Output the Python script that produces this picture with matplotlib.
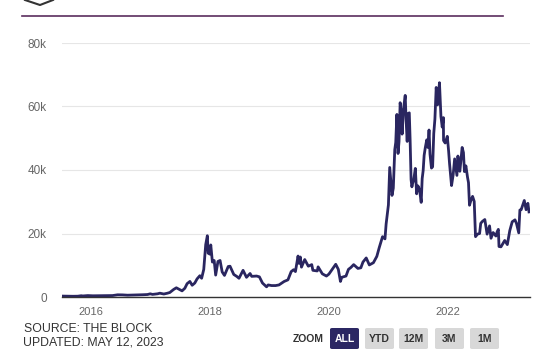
import numpy as np
import pandas as pd
import matplotlib
matplotlib.use("Agg")
import matplotlib.pyplot as plt
from matplotlib.patches import FancyBboxPatch

# Bitcoin price (USD)
dates = [
    "2015-07-15", "2015-08-15", "2015-09-15", "2015-10-15", "2015-11-05", "2015-11-15",
    "2015-12-15", "2016-01-15", "2016-02-15", "2016-03-15", "2016-04-15", "2016-05-15",
    "2016-06-15", "2016-07-15", "2016-08-15", "2016-09-15", "2016-10-15", "2016-11-15",
    "2016-12-15", "2017-01-01", "2017-01-15", "2017-02-15", "2017-03-01", "2017-03-25",
    "2017-04-15", "2017-05-01", "2017-05-25", "2017-06-10", "2017-06-25", "2017-07-15",
    "2017-08-01", "2017-08-15", "2017-09-01", "2017-09-15", "2017-10-01", "2017-10-15",
    "2017-11-01", "2017-11-12", "2017-11-25", "2017-12-07", "2017-12-17", "2017-12-22",
    "2018-01-01", "2018-01-07", "2018-01-17", "2018-01-28", "2018-02-06", "2018-02-20",
    "2018-03-05", "2018-03-18", "2018-04-01", "2018-04-24", "2018-05-05", "2018-05-28",
    "2018-06-15", "2018-06-29", "2018-07-24", "2018-08-14", "2018-09-05", "2018-09-15",
    "2018-10-15", "2018-11-01", "2018-11-20", "2018-12-15", "2018-12-25", "2019-01-15",
    "2019-02-08", "2019-03-01", "2019-04-02", "2019-04-25", "2019-05-15", "2019-05-30",
    "2019-06-10", "2019-06-26", "2019-07-02", "2019-07-10", "2019-07-17", "2019-08-06",
    "2019-08-28", "2019-09-18", "2019-09-25", "2019-10-22", "2019-10-27", "2019-11-22",
    "2019-12-17", "2020-01-01", "2020-01-20", "2020-02-12", "2020-02-28", "2020-03-12",
    "2020-03-20", "2020-04-15", "2020-04-30", "2020-05-15", "2020-06-01", "2020-06-27",
    "2020-07-15", "2020-07-28", "2020-08-17", "2020-09-05", "2020-09-30", "2020-10-21",
    "2020-11-05", "2020-11-25", "2020-12-10", "2020-12-17", "2020-12-31", "2021-01-08",
    "2021-01-14", "2021-01-22", "2021-01-30", "2021-02-08", "2021-02-14", "2021-02-21",
    "2021-02-28", "2021-03-06", "2021-03-13", "2021-03-19", "2021-03-25", "2021-04-02",
    "2021-04-13", "2021-04-18", "2021-04-25", "2021-05-01", "2021-05-08", "2021-05-13",
    "2021-05-19", "2021-05-24", "2021-05-28", "2021-06-04", "2021-06-14", "2021-06-22",
    "2021-06-30", "2021-07-10", "2021-07-20", "2021-07-26", "2021-08-01", "2021-08-07",
    "2021-08-14", "2021-08-23", "2021-08-30", "2021-09-06", "2021-09-12", "2021-09-21",
    "2021-09-28", "2021-10-05", "2021-10-12", "2021-10-20", "2021-10-28", "2021-11-02",
    "2021-11-09", "2021-11-18", "2021-11-26", "2021-12-03", "2021-12-04", "2021-12-14",
    "2021-12-27", "2022-01-04", "2022-01-10", "2022-01-22", "2022-02-01", "2022-02-10",
    "2022-02-24", "2022-03-02", "2022-03-14", "2022-03-28", "2022-04-05", "2022-04-11",
    "2022-04-20", "2022-04-30", "2022-05-06", "2022-05-12", "2022-05-20", "2022-05-31",
    "2022-06-10", "2022-06-18", "2022-06-30", "2022-07-13", "2022-07-20", "2022-07-30",
    "2022-08-14", "2022-08-28", "2022-09-12", "2022-09-21", "2022-10-04", "2022-10-21",
    "2022-10-29", "2022-11-05", "2022-11-09", "2022-11-21", "2022-12-14", "2022-12-30",
    "2023-01-14", "2023-01-29", "2023-02-15", "2023-02-24", "2023-03-10", "2023-03-17",
    "2023-03-25", "2023-04-13", "2023-04-24", "2023-05-05", "2023-05-12",
]
prices = [
    285, 260, 230, 255, 400, 330,
    450, 380, 400, 415, 430, 455,
    690, 665, 570, 610, 640, 710,
    780, 1000, 820, 1010, 1200, 940,
    1180, 1420, 2400, 2900, 2500, 1930,
    2750, 4200, 4900, 3700, 4400, 5700,
    6700, 5900, 8700, 16500, 19300, 13800,
    13500, 16400, 11000, 11500, 6900, 11200,
    11500, 7900, 6800, 9600, 9700, 7100,
    6500, 5900, 8400, 6200, 7400, 6500,
    6600, 6350, 4400, 3200, 3800, 3600,
    3600, 3800, 4900, 5400, 8000, 8600,
    8000, 12900, 10600, 12600, 9400, 11800,
    9700, 10200, 8400, 8200, 9500, 7300,
    6600, 7200, 8600, 10300, 8700, 4900,
    6200, 6600, 8700, 9300, 10200, 9000,
    9200, 11000, 12300, 10100, 10800, 12800,
    15600, 19000, 18300, 23000, 29000, 40800,
    37000, 32000, 34300, 46400, 48700, 57500,
    45200, 48900, 61200, 58000, 51300, 59000,
    63500, 56200, 49000, 57800, 58000, 49700,
    37000, 34700, 35700, 36800, 40500, 32500,
    35000, 33800, 29800, 37300, 39800, 44600,
    47000, 49500, 47100, 52600, 45000, 40600,
    41000, 51500, 56000, 66000, 60500, 63200,
    67500, 56900, 53500, 56500, 49300, 48500,
    50600, 46000, 41900, 35100, 38500, 43500,
    38300, 44400, 39600, 47100, 45500, 39500,
    41300, 37700, 36000, 28900, 30300, 31700,
    30100, 19000, 19800, 20000, 23200, 23800,
    24400, 19800, 22400, 18500, 20300, 19200,
    20600, 21300, 15900, 15800, 17800, 16500,
    20900, 23700, 24300, 23200, 20200, 27400,
    27500, 30400, 27500, 29500, 26800,
]

y_ticks = [0, 20000, 40000, 60000, 80000]
y_labels = ["0", "20k", "40k", "60k", "80k"]
x_ticks = ["2016-01-01", "2018-01-01", "2020-01-01", "2022-01-01"]
x_labels = ["2016", "2018", "2020", "2022"]
zoom_buttons = ["ALL", "YTD", "12M", "3M", "1M"]

plt.rcParams["font.family"] = ["Liberation Sans", "DejaVu Sans"]

fig = plt.figure(figsize=(5.54, 3.61), dpi=100)
W, H = 554, 361
ax = fig.add_axes([62 / W, 1 - 297 / H, (530 - 62) / W, (297 - 43) / H])

x = pd.to_datetime(dates)
ax.plot(x, prices, color="#2a2660", lw=2.0, solid_joinstyle="round")

ax.set_ylim(0, 80000)
ax.set_xlim(pd.Timestamp("2015-07-10"), pd.Timestamp("2023-05-18"))
ax.set_yticks(y_ticks)
ax.set_yticklabels(y_labels)
ax.set_xticks(pd.to_datetime(x_ticks))
ax.set_xticklabels(x_labels)
ax.tick_params(axis="y", length=0, pad=11, labelsize=8.5, labelcolor="#666666")
ax.tick_params(axis="x", length=0, pad=7, labelsize=8, labelcolor="#666666")
ax.grid(axis="y", color="#e6e6e6", lw=0.8)
ax.set_axisbelow(True)
for s in ["top", "right", "left"]:
    ax.spines[s].set_visible(False)
ax.spines["bottom"].set_color("#333333")
ax.spines["bottom"].set_linewidth(1.0)

# header bits: logo chevron and purple rule
fig.add_artist(plt.Line2D([25 / W, 40 / W, 53 / W], [1.0, 1 - 5 / H, 1.0],
                          color="#333333", lw=1.5))
fig.add_artist(plt.Line2D([22 / W, 503 / W], [1 - 16 / H, 1 - 16 / H],
                          color="#5b2d5e", lw=1.2))

# source text
fig.text(24 / W, 1 - 328.5 / H, "SOURCE: THE BLOCK", fontsize=8.8, color="#333333",
         va="center", ha="left")
fig.text(23 / W, 1 - 342.5 / H, "UPDATED: MAY 12, 2023", fontsize=8.8, color="#333333",
         va="center", ha="left")

# zoom buttons
fig.text(293 / W, 1 - 339 / H, "ZOOM", fontsize=7.5, color="#333333",
         weight="bold", va="center", ha="left")
btn_x = [330, 365, 399, 435, 470]
for i, lab in enumerate(zoom_buttons):
    x0 = btn_x[i]
    fc = "#2b2763" if i == 0 else "#d8d8d8"
    tc = "white" if i == 0 else "#333333"
    box = FancyBboxPatch((x0 / W, 1 - 349 / H), 29 / W, 21 / H,
                         boxstyle="round,pad=0,rounding_size=0.004",
                         transform=fig.transFigure, fc=fc, ec="none")
    fig.add_artist(box)
    fig.text((x0 + 14.5) / W, 1 - 339 / H, lab, fontsize=7.5, color=tc,
             weight="bold", va="center", ha="center")

fig.savefig("out.png", dpi=100)
